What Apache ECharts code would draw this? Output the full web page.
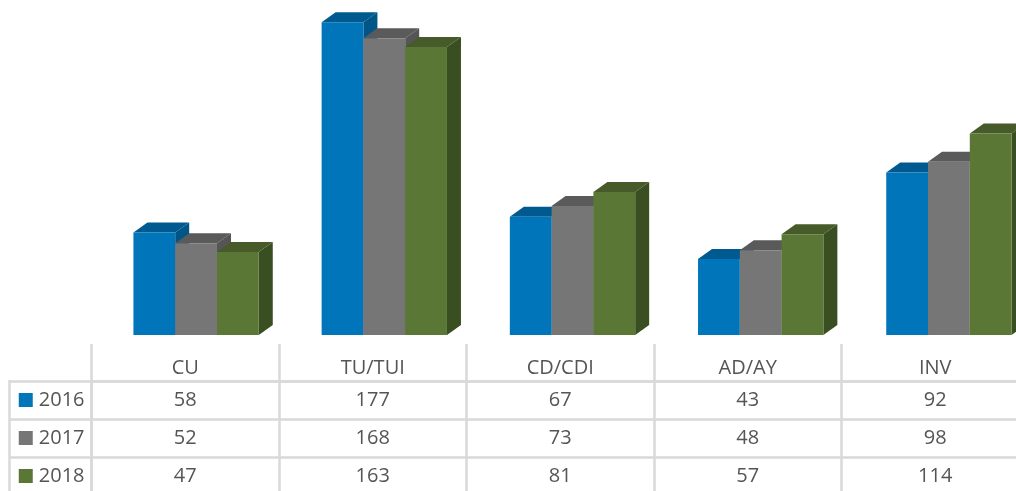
<!DOCTYPE html>
<html><head><meta charset="utf-8">
<style>html,body{margin:0;padding:0;background:#fff}#c{width:1016px;height:491px}</style>
<script src="https://cdn.jsdelivr.net/npm/echarts@6/dist/echarts.min.js"></script>
</head><body><div id="c"></div>
<script>
const categories = ['CU','TU/TUI','CD/CDI','AD/AY','INV'];
const years = ['2016','2017','2018'];
const values2016 = [58,177,67,43,92];
const values2017 = [52,168,73,48,98];
const values2018 = [47,163,81,57,114];
const seriesValues = [values2016, values2017, values2018];
const faceColors = [
  {front:'#0075B9', top:'#005A8F', side:'#005587'},
  {front:'#767676', top:'#5A5A5A', side:'#555555'},
  {front:'#5B7735', top:'#465B29', side:'#3A4F21'}
];
const lineColor = '#D9D9D9', textColor = '#555555', fontFamily = '"Open Sans"', fontSize = 20;
const barWidthRatio = 0.222, depthX = 14, depthY = 10;

const chart = echarts.init(document.getElementById('c'));

function barSeries(idx){
  return {
    type:'custom', name:years[idx], xAxisIndex:0, yAxisIndex:0, clip:false, z:2+idx,
    encode:{x:0,y:1},
    data:seriesValues[idx].map((v,i)=>[i,v]),
    renderItem(params, api){
      const base = api.coord([api.value(0),0]);
      const top = api.coord([api.value(0),api.value(1)]);
      const w = api.size([1,0])[0]*barWidthRatio;
      const x0 = base[0] + (idx-1.5)*w, x1 = x0+w, yT = top[1], yB = base[1];
      const c = faceColors[idx];
      const poly = (pts,fill)=>({type:'polygon',shape:{points:pts},style:{fill}});
      return {type:'group',children:[
        poly([[x1,yT],[x1+depthX,yT-depthY],[x1+depthX,yB-depthY],[x1,yB]],c.side),
        poly([[x0,yT],[x0+depthX,yT-depthY],[x1+depthX,yT-depthY],[x1,yT]],c.top),
        poly([[x0,yT],[x1,yT],[x1,yB],[x0,yB]],c.front)
      ]};
    }
  };
}

const tableData = [];
seriesValues.forEach((arr,r)=>arr.forEach((v,i)=>tableData.push([i,r,v])));

chart.setOption({
  animation:false,
  backgroundColor:'#fff',
  grid:[
    {left:102,top:17,width:941,height:318,outerBoundsMode:'none'},
    {left:91.5,top:381,width:937.5,height:114,outerBoundsMode:'none'}
  ],
  xAxis:[
    {type:'category',gridIndex:0,data:categories,show:false},
    {type:'category',gridIndex:1,data:categories,position:'top',
     axisLine:{show:true,lineStyle:{color:lineColor,width:2.5}},
     axisTick:{show:true,length:37,lineStyle:{color:lineColor,width:2.5}},
     splitLine:{show:true,lineStyle:{color:lineColor,width:2.5}},
     axisLabel:{color:textColor,fontFamily,fontSize,margin:3,interval:0}}
  ],
  yAxis:[
    {type:'value',gridIndex:0,min:0,max:180,show:false},
    {type:'category',gridIndex:1,data:years,inverse:true,
     axisLine:{show:true,lineStyle:{color:lineColor,width:2.5}},
     axisTick:{show:true,length:82,lineStyle:{color:lineColor,width:2.5}},
     splitLine:{show:true,lineStyle:{color:lineColor,width:2.5}},
     axisLabel:{margin:7,formatter:(v,i)=>`{k${i}|}{t|${v}}`,
       rich:{
         k0:{width:14,height:14,backgroundColor:faceColors[0].front},
         k1:{width:14,height:14,backgroundColor:faceColors[1].front},
         k2:{width:14,height:14,backgroundColor:faceColors[2].front},
         t:{color:textColor,fontFamily,fontSize,padding:[0,0,0,6]}
       }}}
  ],
  graphic:[{type:'line',shape:{x1:9.5,y1:380,x2:9.5,y2:491},style:{stroke:lineColor,lineWidth:2.5}}],
  series:[
    barSeries(0),barSeries(1),barSeries(2),
    {type:'custom',xAxisIndex:1,yAxisIndex:1,clip:false,z:5,encode:{x:0,y:1},data:tableData,
     renderItem(params,api){
       const p = api.coord([api.value(0),api.value(1)]);
       return {type:'text',x:p[0],y:p[1],style:{text:String(api.value(2)),fill:textColor,
         font:`${fontSize}px ${fontFamily}`,align:'center',verticalAlign:'middle'}};
     }}
  ]
});
</script></body></html>
